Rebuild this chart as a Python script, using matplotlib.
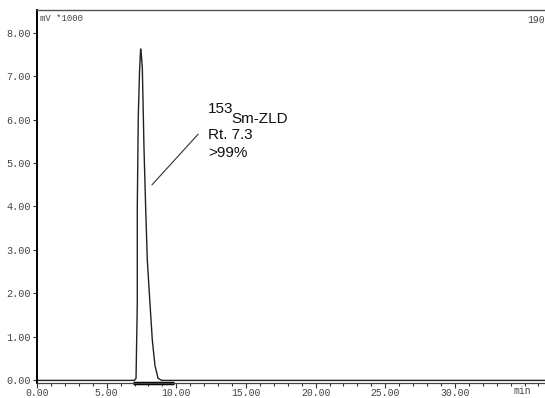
import matplotlib
matplotlib.use("Agg")
import matplotlib.pyplot as plt
import numpy as np

# Chromatogram trace (time in min, signal in mV*1000)
time_min = [0.0, 7.00, 7.11, 7.20, 7.20, 7.27, 7.36, 7.44, 7.50, 7.56, 7.68, 7.80,
            7.92, 8.11, 8.28, 8.47, 8.69, 8.95, 36.5]
signal = [0.0, 0.0, 0.05, 1.77, 3.98, 6.05, 7.10, 7.63, 7.45, 7.20, 5.36, 3.98,
          2.76, 1.77, 0.92, 0.34, 0.05, 0.0, 0.0]

# Integration marker (baseline of integrated peak)
integ_start_end = [6.9, 9.8]

# Annotation leader line
leader_t = [8.26, 11.56]
leader_v = [4.50, 5.66]

x_major = [0, 5, 10, 15, 20, 25, 30]
x_labels = ["0.00", "5.00", "10.00", "15.00", "20.00", "25.00", "30.00"]
y_major = [0, 1, 2, 3, 4, 5, 6, 7, 8]
y_labels = ["0.00", "1.00", "2.00", "3.00", "4.00", "5.00", "6.00", "7.00", "8.00"]

W, H = 545, 398
fig = plt.figure(figsize=(W / 100, H / 100), dpi=100)
ax = fig.add_axes([37 / W, 15 / H, 508 / W, 373 / H])

ax.set_xlim(0, 36.47)
ax.set_ylim(-0.06, 8.52)

ax.plot(time_min, signal, color="#222222", lw=1.0, solid_joinstyle="miter")
ax.plot(integ_start_end, [-0.06, -0.06], color="black", lw=2.5, clip_on=False,
        solid_capstyle="butt")
ax.plot(leader_t, leader_v, color="#333333", lw=0.8)

txtfont = dict(family=["Liberation Sans", "DejaVu Sans"], color="#111111")
ax.text(12.28, 6.16, "153", fontsize=11, ha="left", va="baseline", **txtfont)
ax.text(13.93, 5.91, "Sm-ZLD", fontsize=11, ha="left", va="baseline", **txtfont)
ax.text(12.28, 5.56, "Rt. 7.3", fontsize=11, ha="left", va="baseline", **txtfont)
ax.text(12.28, 5.13, ">99%", fontsize=11, ha="left", va="baseline", **txtfont)

mono = ["Liberation Mono", "DejaVu Sans Mono"]
ax.set_xticks(x_major)
ax.set_xticklabels(x_labels, fontfamily=mono, fontsize=7, color="#444444")
ax.set_xticks(np.arange(0, 37, 1), minor=True)
ax.set_yticks(y_major)
ax.set_yticklabels(y_labels, fontfamily=mono, fontsize=7.3, color="#444444")

ax.tick_params(axis="x", which="major", length=3.5, width=0.8, color="#333333", pad=0.3)
ax.tick_params(axis="x", which="minor", length=2.5, width=0.8, color="#333333")
ax.tick_params(axis="y", which="major", length=3, width=0.8, color="#333333", pad=1.5)

ax.spines["right"].set_visible(False)
ax.spines["left"].set_color("black")
ax.spines["left"].set_linewidth(1.4)
ax.spines["bottom"].set_color("#444444")
ax.spines["bottom"].set_linewidth(0.9)
ax.spines["top"].set_color("#555555")
ax.spines["top"].set_linewidth(1.0)

ax.text(0.006, 0.99, "mV *1000", transform=ax.transAxes, fontfamily=mono,
        fontsize=6.5, color="#444444", ha="left", va="top")
fig.text(1.0, 1 - 15 / H, "190", fontfamily=mono, fontsize=7, color="#444444",
         ha="right", va="top")
fig.text(522 / W, 1 - 391 / H, "min", fontfamily=mono, fontsize=7,
         color="#444444", ha="center", va="center")

fig.savefig("out.png", dpi=100, facecolor="white")
